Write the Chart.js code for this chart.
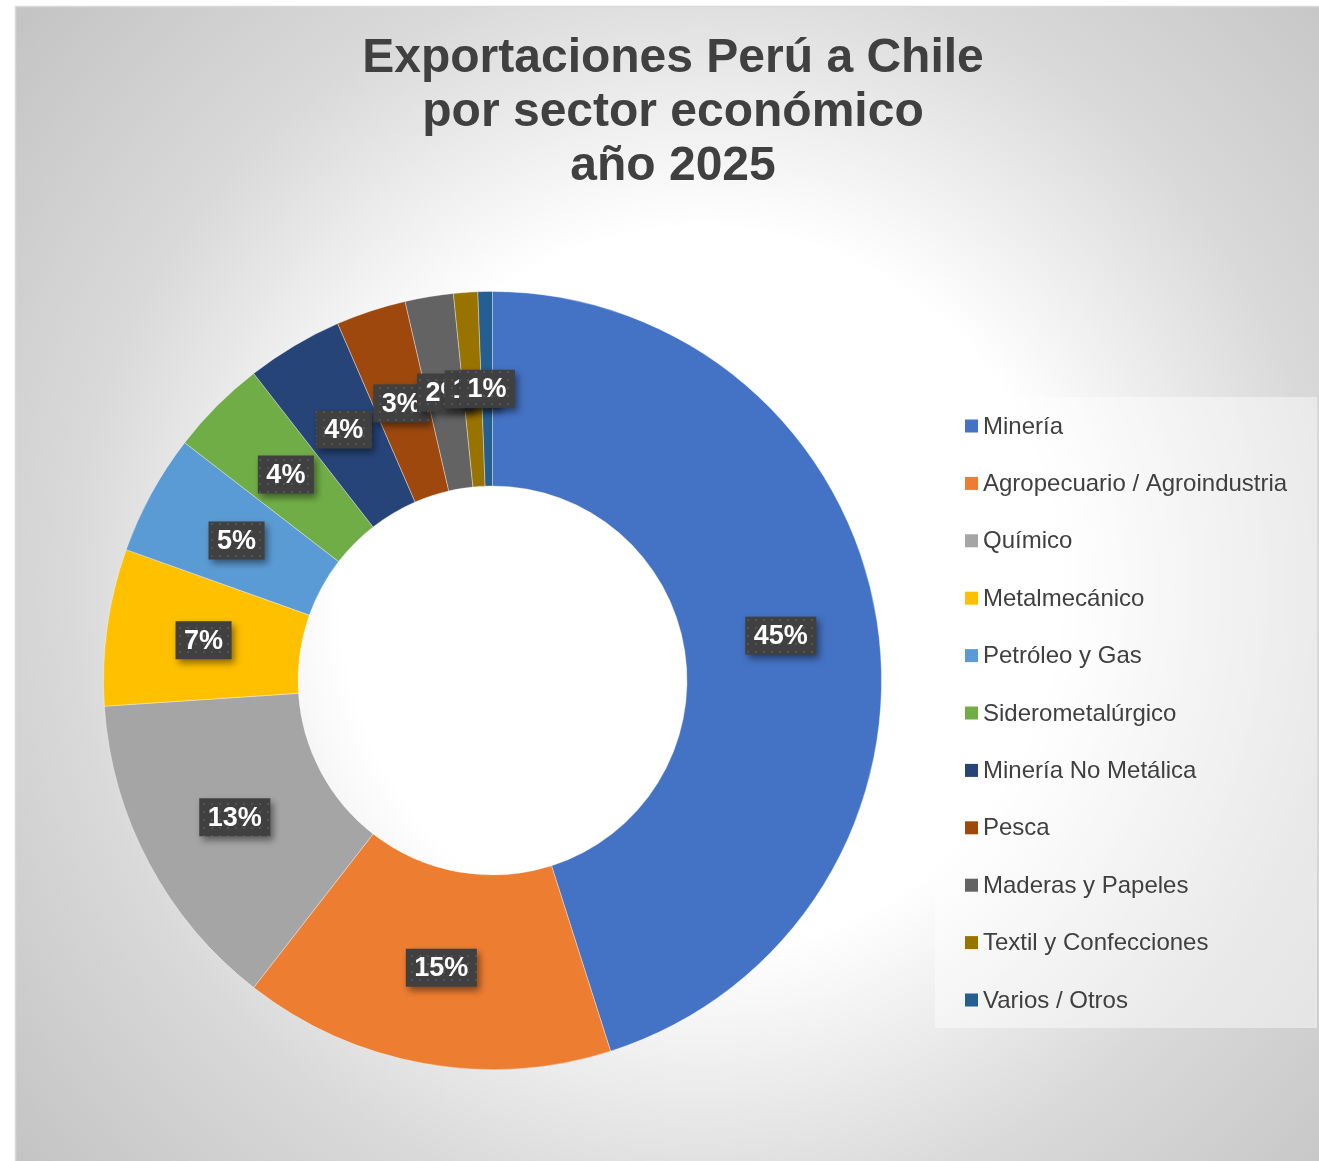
<!DOCTYPE html>
<html>
<head>
<meta charset="utf-8">
<script src="https://cdn.jsdelivr.net/npm/chart.js@4.4.1/dist/chart.umd.min.js"></script>
<style>
html, body { margin: 0; padding: 0; background: #fff; }
#wrap { position: relative; width: 1319px; height: 1161px; }
</style>
</head>
<body>
<div id="wrap"><canvas id="donut"></canvas></div>
<script>
const sectores = ['Minería', 'Agropecuario / Agroindustria', 'Químico', 'Metalmecánico', 'Petróleo y Gas',
    'Siderometalúrgico', 'Minería No Metálica', 'Pesca', 'Maderas y Papeles', 'Textil y Confecciones', 'Varios / Otros'];
const participacion = [45.0, 15.4, 13.4, 6.5, 5.0, 4.0, 4.0, 2.9, 2.0, 1.0, 0.6];
const colores = ['#4472C4', '#ED7D31', '#A5A5A5', '#FFC000', '#5B9BD5', '#70AD47',
    '#264478', '#9E480E', '#636363', '#997300', '#255E91'];
const titulo = ['Exportaciones Perú a Chile', 'por sector económico', 'año 2025'];

const FONT = '"Liberation Sans", Arial, sans-serif';

// fondo con degradado radial y borde
const fondo = {
    id: 'fondo',
    beforeDraw(chart) {
        const c = chart.ctx;
        c.save();
        const g = c.createRadialGradient(700, 590, 0, 700, 590, 900);
        g.addColorStop(0, '#ffffff');
        g.addColorStop(0.4, '#ffffff');
        g.addColorStop(0.7, '#d9d9d9');
        g.addColorStop(1, '#c3c3c3');
        c.fillStyle = g;
        c.fillRect(15, 6, 1304, 1155);
        c.strokeStyle = '#d9d9d9';
        c.lineWidth = 1.5;
        c.beginPath();
        c.moveTo(15.5, 1161);
        c.lineTo(15.5, 6.5);
        c.lineTo(1319, 6.5);
        c.stroke();
        c.restore();
    }
};

const tituloPlugin = {
    id: 'tituloPlugin',
    afterDraw(chart) {
        const c = chart.ctx;
        c.save();
        c.font = 'bold 48px ' + FONT;
        c.fillStyle = '#404040';
        c.textAlign = 'center';
        c.textBaseline = 'middle';
        titulo.forEach((t, i) => c.fillText(t, 673, 59 + i * 54));
        c.restore();
    }
};

const leyenda = {
    id: 'leyenda',
    afterDraw(chart) {
        const c = chart.ctx;
        c.save();
        c.fillStyle = 'rgba(255,255,255,0.45)';
        c.fillRect(935, 397, 382, 631);
        c.font = '24px ' + FONT;
        c.textBaseline = 'middle';
        c.textAlign = 'left';
        sectores.forEach((s, i) => {
            const y = 426 + i * 57.4;
            c.fillStyle = colores[i];
            c.fillRect(965, y - 6.5, 13, 13);
            c.fillStyle = '#404040';
            c.fillText(s, 983, y + 1);
        });
        c.restore();
    }
};

let patron = null;
function getPatron(c) {
    if (patron) return patron;
    const p = document.createElement('canvas');
    p.width = 8; p.height = 8;
    const pc = p.getContext('2d');
    pc.fillStyle = '#404040';
    pc.fillRect(0, 0, 8, 8);
    pc.fillStyle = '#535353';
    pc.fillRect(3, 3, 2, 2);
    patron = c.createPattern(p, 'repeat');
    return patron;
}

const etiquetas = {
    id: 'etiquetas',
    afterDatasetsDraw(chart) {
        const c = chart.ctx;
        const meta = chart.getDatasetMeta(0);
        const total = participacion.reduce((a, b) => a + b, 0);
        c.save();
        c.font = 'bold 27px ' + FONT;
        c.textAlign = 'center';
        c.textBaseline = 'middle';
        meta.data.forEach((arc, i) => {
            const p = arc.getCenterPoint();
            const txt = Math.round(participacion[i] / total * 100) + '%';
            const w = c.measureText(txt).width + 17;
            const h = 38;
            c.save();
            c.shadowColor = 'rgba(0,0,0,0.45)';
            c.shadowBlur = 7;
            c.shadowOffsetX = 3;
            c.shadowOffsetY = 4;
            c.fillStyle = getPatron(c);
            c.fillRect(p.x - w / 2, p.y - h / 2, w, h);
            c.restore();
            c.fillStyle = '#ffffff';
            c.fillText(txt, p.x, p.y + 1);
        });
        c.restore();
    }
};

const ctx = document.getElementById('donut').getContext('2d');
const grafico = new Chart(ctx, {
    type: 'doughnut',
    data: {
        labels: sectores,
        datasets: [{
            data: participacion,
            backgroundColor: colores,
            borderColor: 'rgba(255,255,255,0.35)',
            borderWidth: 1
        }]
    },
    options: {
        responsive: true,
        maintainAspectRatio: false,
        animation: false,
        cutout: '50%',
        layout: { padding: { top: 291, bottom: 91, left: 103, right: 437 } },
        plugins: {
            legend: { display: false },
            tooltip: { enabled: false },
            title: { display: false }
        }
    },
    plugins: [fondo, etiquetas, tituloPlugin, leyenda]
});
</script>
</body>
</html>
